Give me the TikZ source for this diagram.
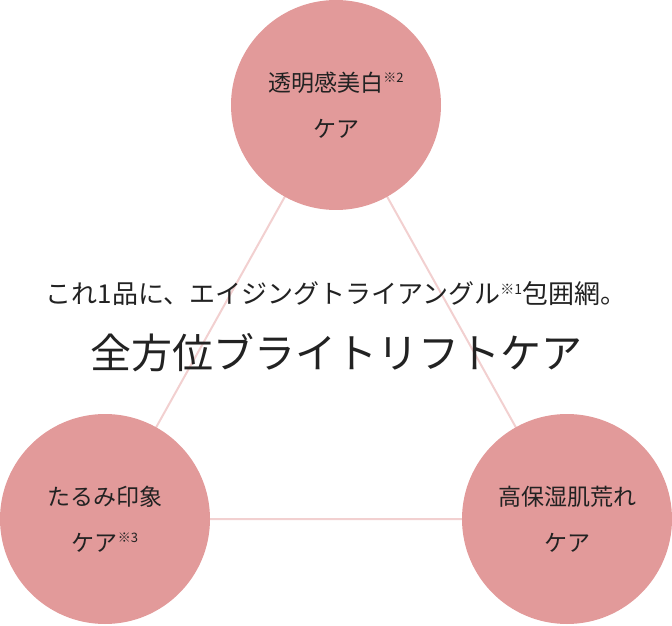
\documentclass[tikz,border=0pt]{standalone}
\usepackage{fontspec}
\setmainfont{Noto Sans CJK JP}
\definecolor{circ}{HTML}{E29A9A}
\definecolor{lin}{HTML}{F2D0D0}
\definecolor{txt}{HTML}{222222}
\begin{document}
\begin{tikzpicture}[x=1pt,y=1pt,
  bub/.style={circle,fill=circ,minimum size=210pt,inner sep=0pt,align=center,text=txt,font=\fontsize{23}{46}\selectfont},
  conn/.style={draw=lin,line width=2pt}]
\useasboundingbox (0,0) rectangle (672,625);
\coordinate (ct) at (336,520);
\coordinate (cl) at (105,106);
\coordinate (cr) at (567,106);
\draw[conn] (ct) -- (cl) -- (cr) -- cycle;
\node[bub] (t) at (ct) {透明感美白\raisebox{0.7ex}{\fontsize{13}{13}\selectfont ※2}\\ケア};
\node[bub] (l) at (cl) {たるみ印象\\ケア\raisebox{0.7ex}{\fontsize{13}{13}\selectfont ※3}};
\node[bub] (r) at (cr) {高保湿肌荒れ\\ケア};
\node[text=txt,font=\fontsize{26}{26}\selectfont,inner sep=0pt] (m1) at (336,331) {これ1品に、エイジングトライアングル\raisebox{0.7ex}{\fontsize{14}{14}\selectfont ※1}包囲網。};
\node[text=txt,font=\fontsize{41}{41}\selectfont,inner sep=0pt] (m2) at (336,272) {全方位ブライトリフトケア};
\end{tikzpicture}
\end{document}
